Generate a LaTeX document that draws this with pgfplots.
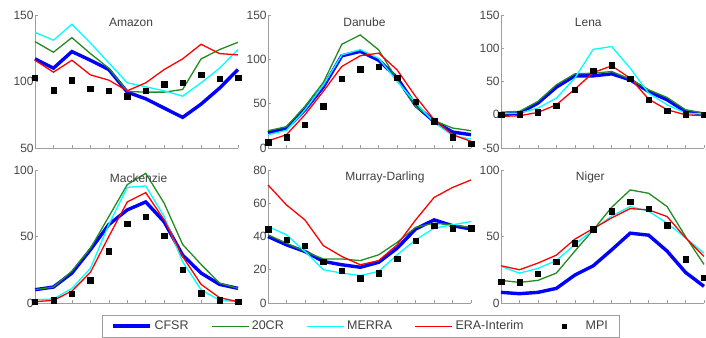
\documentclass[border=0pt]{standalone}
\usepackage{pgfplots}
\usepackage{pgfplotstable}
\pgfplotsset{compat=1.18}
\usepackage{fontspec}
\setmainfont{Liberation Sans}

\definecolor{cgreen}{rgb}{0.13,0.55,0.13}
\definecolor{ccyan}{rgb}{0,1,1}
\definecolor{cblue}{rgb}{0,0,1}
\definecolor{cred}{rgb}{1,0,0}
\definecolor{axgray}{gray}{0.62}

\pgfplotstableread{
m cfsr c20 merra era mpi
1 117 130 137 116 103
2 110 122 131 107 93.5
3 122.5 133 143 116 101
4 116 121 129 105 94.5
5 109 110 114 101 93
6 92 92.5 99 93 89
7 87 92 96 99 93
8 80 92 93 109 98
9 73 94 89 117 99
10 83 117 99 128 105
11 95 124 110 121 102
12 109 129.5 124 120 103
}\amazon
\pgfplotstableread{
m cfsr c20 merra era mpi
1 17 19.5 15 8 6.5
2 22.5 24 20 15 12
3 43 47 43 37.5 26
4 69 74 71 64 47
5 104 117 105 92 78
6 109 127.5 111 104 89
7 99 110.6 101 107 92
8 79 77 75 88 79.5
9 48 47 51 58 52.5
10 30 31 29 32 30
11 18 22.5 14 15 12
12 15 19.5 10 7.5 5
}\danube
\pgfplotstableread{
m cfsr c20 merra era mpi
1 0 4 1.5 -2.5 0
2 2.5 5 2.5 -1.5 1
3 17.5 20 10 3.5 4
4 41.5 45 25 15 14
5 58.5 61.5 55 38.5 37.5
6 58.5 62.5 98.5 63.5 66.5
7 61.5 65 102.5 73.5 74.5
8 52.5 53.5 70 55 54
9 35 37.5 32.5 23.5 22.5
10 22.5 26 15 7.5 6
11 5 7.5 2.5 0 1
12 1 2.5 1 -1.5 0
}\lena
\pgfplotstableread{
m cfsr c20 merra era mpi
1 10 10 2.5 1 1
2 12 12 3 2 2
3 22.5 24 11 9 7
4 40 41 26 23 17
5 59 65 59 50 39
6 70 89 87 76 59.5
7 76 97.5 88 83 65
8 61 75 65 62.5 50.5
9 36 44 31 35 25
10 22.5 29 10 14 7.5
11 14 15 2 4 2
12 11 11 1 1 1
}\mackenzie
\pgfplotstableread{
m cfsr c20 merra era mpi
1 40 41 46 71 44.5
2 35 36 41 59 38
3 31 31 31 50 34.5
4 25 26.5 20 34.5 25
5 23 26.5 18 28 19.5
6 21.5 25.5 16.5 23 15
7 24.5 29 19 25.5 18
8 33 36.5 29 35 26.5
9 44.5 45.5 38 50 37.5
10 50 48 45 63.5 46.5
11 46.5 47 47 69.5 45
12 44.5 45.5 49 74 45
}\murray
\pgfplotstableread{
m cfsr c20 merra era mpi
1 8 17 27.5 28 16
2 7 15.5 22.5 25 15.5
3 8 17 26 30 22
4 11 22.5 32 36 31
5 21 39 44 48 45
6 28 55 55 56 55.5
7 40 72 65.5 64 69
8 52.5 85 72.5 71 76
9 51 82.5 69 70 71
10 39 72.5 60 65 58.5
11 23 50 49 49 33
12 12.5 29 37.5 35 19
}\niger

\pgfplotsset{
  panel/.style={
    width=203pt, height=133pt, scale only axis, anchor=south west,
    xmin=1, xmax=12, xtick={1,...,12}, xticklabels={},
    axis x line=bottom, axis y line=left,
    axis line style={draw=axgray, line width=0.8pt, -},
    tick style={draw=axgray, line width=0.6pt},
    major tick length=2.5pt, tick align=inside,
    yticklabel style={text=black!72, inner sep=1.2pt, font=\fontsize{12}{14}\selectfont},
    /pgf/number format/assume math mode=true,
    clip=false,
    legend image code/.code={\draw[##1] (0pt,0pt) -- (37pt,0pt);},
  },
  scfsr/.style={cblue, line width=3.4pt},
  sc20/.style={cgreen, line width=1.3pt},
  smerra/.style={ccyan, line width=1.3pt},
  sera/.style={cred, line width=1.3pt},
  smpi/.style={black, only marks, mark=square*, mark size=2.7pt,
    legend image code/.code={\path[draw=none,fill=none] (0pt,0pt) -- (37pt,0pt);\draw[##1,mark size=2pt] plot coordinates {(18.5pt,0pt)};}},
}

\newcommand{\fiveplots}[1]{%
  \addplot[scfsr] table[x=m,y=cfsr]{#1};
  \addplot[sc20] table[x=m,y=c20]{#1};
  \addplot[smerra] table[x=m,y=merra]{#1};
  \addplot[sera] table[x=m,y=era]{#1};
  \addplot[smpi] table[x=m,y=mpi]{#1};
}
\newcommand{\ptitle}[2]{\node[font=\fontsize{12}{14}\selectfont, text=black!75] at (rel axis cs:#1,0.942) {#2};}

\begin{document}
\begin{tikzpicture}
\useasboundingbox (0pt,0pt) rectangle (706pt,337pt);

\begin{axis}[panel, at={(35pt,189pt)}, ymin=50, ymax=150, ytick={50,100,150}]
\fiveplots{\amazon}
\ptitle{0.473}{Amazon}
\end{axis}

\begin{axis}[panel, at={(268pt,189pt)}, ymin=0, ymax=150, ytick={0,50,100,150}]
\fiveplots{\danube}
\ptitle{0.475}{Danube}
\end{axis}

\begin{axis}[panel, at={(501pt,189pt)}, ymin=-50, ymax=150, ytick={-50,0,50,100,150}]
\fiveplots{\lena}
\ptitle{0.43}{Lena}
\end{axis}

\begin{axis}[panel, at={(35pt,34pt)}, ymin=0, ymax=100, ytick={0,50,100}]
\fiveplots{\mackenzie}
\ptitle{0.51}{Mackenzie}
\end{axis}

\begin{axis}[panel, at={(268pt,34pt)}, ymin=0, ymax=80, ytick={0,20,40,60,80},
  legend columns=5,
  legend style={at={(0.458,-0.0902)}, anchor=north, draw=axgray, line width=0.8pt,
    fill=white, font=\fontsize{12.5}{15}\selectfont, text=black!75,
    inner xsep=9pt, inner ysep=3pt,
    nodes={inner sep=2.5pt},
    /tikz/every even column/.append style={column sep=20pt}}]
\fiveplots{\murray}
\legend{CFSR,20CR,MERRA,ERA-Interim,MPI}
\ptitle{0.576}{Murray-Darling}
\end{axis}

\begin{axis}[panel, at={(501pt,34pt)}, ymin=0, ymax=100, ytick={0,50,100}]
\fiveplots{\niger}
\ptitle{0.44}{Niger}
\end{axis}

\end{tikzpicture}
\end{document}
